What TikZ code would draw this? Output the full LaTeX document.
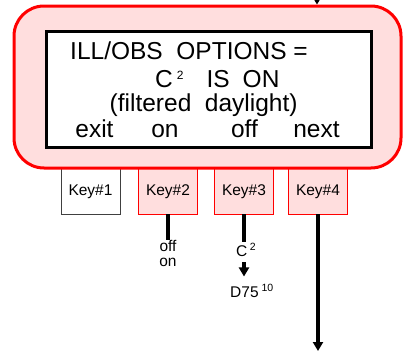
\documentclass[tikz,border=0pt]{standalone}
\usepackage{fontspec}
\setmainfont{Liberation Sans}
\usetikzlibrary{arrows.meta,positioning}
\definecolor{panelpink}{RGB}{255,222,222}

\begin{document}
\begin{tikzpicture}[
    x=1pt, y=-1pt,
    panel/.style={draw=red, line width=3pt, fill=panelpink, rectangle, rounded corners=30pt, minimum width=387pt, minimum height=162pt, inner sep=0pt},
    screen/.style={draw=black, line width=3pt, fill=white, rectangle, minimum width=325pt, minimum height=116pt, inner sep=0pt},
    key/.style={draw=red, line width=0.8pt, fill=panelpink, rectangle, minimum width=59pt, minimum height=54pt, inner sep=0pt, font=\fontsize{15.5}{18}\selectfont},
    keyplain/.style={key, draw=black!75, fill=white},
    lcd/.style={inner sep=0pt, font=\fontsize{24.5}{26}\selectfont},
    note/.style={inner sep=0pt, font=\fontsize{15.5}{15}\selectfont, align=center},
    stem/.style={line width=3.5pt},
    flow/.style={line width=3.5pt, -{Triangle[length=9pt,width=10pt]}}
]
\useasboundingbox (0,0) rectangle (408,351);

% Soft keys (tucked under the panel)
\node[keyplain] (key1) at (90.5,187) {};
\node[key] (key2) at (168,187) {};
\node[key] (key3) at (244,187) {};
\node[key] (key4) at (318,187) {};

% Panel and display
\node[panel] (panel) at (207.5,87) {};
\node[screen] (screen) at (208.5,89) {};

\node[lcd, anchor=base west] (line1) at (70,59) {ILL/OBS\ \ OPTIONS\ =};
\node[lcd, anchor=base west] (line2) at (155,87) {C\hspace{4pt}\raisebox{8pt}{\fontsize{12}{12}\selectfont 2}\hspace{23pt}IS\hspace{13pt}ON};
\node[lcd, anchor=base west] (line3) at (109.5,111.5) {(filtered\ \ daylight)};
\node[lcd, anchor=base] (lblexit) at (94.5,137) {exit};
\node[lcd, anchor=base] (lblon) at (165,137) {on};
\node[lcd, anchor=base] (lbloff) at (244.5,137) {off};
\node[lcd, anchor=base] (lblnext) at (316.5,137) {next};

% Key captions
\node[note] at (key1.center |- 0,192) {Key\#1};
\node[note] at (key2.center |- 0,192) {Key\#2};
\node[note] at (key3.center |- 0,192) {Key\#3};
\node[note] at (key4.center |- 0,192) {Key\#4};

% Incoming arrow
\coordinate (entry) at (317,0);
\draw[line width=1pt, -{Triangle[length=7pt,width=8pt]}] (entry) -- (entry |- panel.north);

% Key#2 toggle
\node[note, anchor=north] (offon) at (168,240) {off\\on};
\draw[stem] (key2.south) -- (key2.south |- offon.north);

% Key#3 choice
\node[note, anchor=base west] (ctwo) at (236,256) {C\hspace{2.5pt}\raisebox{6pt}{\fontsize{10.5}{10}\selectfont 2}};
\node[note, anchor=base west] (dsevfive) at (230,297) {D75\hspace{3pt}\raisebox{6pt}{\fontsize{10.5}{10}\selectfont 10}};
\draw[stem] (key3.south) -- (key3.south |- ctwo.north);
\draw[flow, shorten <=6pt, shorten >=7pt] (key3.south |- ctwo.south) -- (key3.south |- dsevfive.north);

% Key#4 onward
\coordinate (exitpt) at (318,351);
\draw[flow] (key4.south) -- (exitpt);

\end{tikzpicture}
\end{document}
